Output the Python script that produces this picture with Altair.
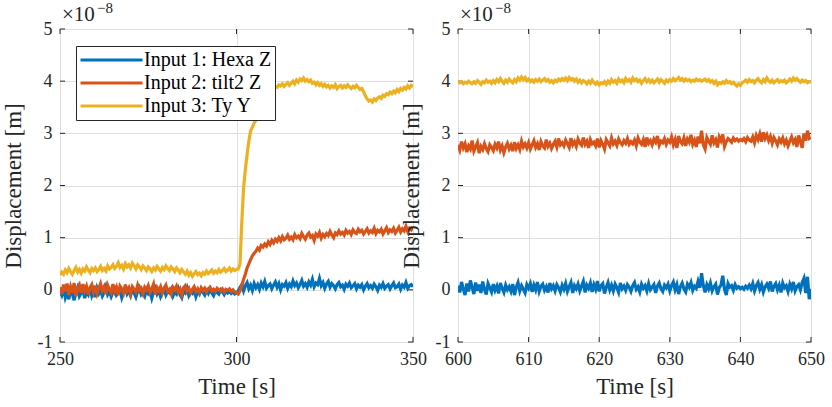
import altair as alt
import pandas as pd

FONT = "'Liberation Serif', 'Times New Roman', serif"
names = ["Input 1: Hexa Z", "Input 2: tilt2 Z", "Input 3: Ty Y"]
colors = ["#0072BD", "#D95319", "#EDB120"]

left_start, left_step = 250.0, 0.5
right_start, right_step = 600.0, 0.25

# values in units of 1e-8 m
blue_left = [
    -0.02,-0.10,0.03,-0.15,-0.05,-0.18,0.02,-0.08,-0.20,-0.04,
    0.05,-0.12,-0.06,0.01,-0.16,-0.03,-0.09,0.04,-0.11,-0.02,
    -0.14,0.03,-0.07,-0.01,-0.12,-0.05,0.06,-0.09,-0.03,-0.13,
    -0.04,0.02,-0.10,-0.06,-0.01,-0.15,-0.05,0.03,-0.08,-0.02,
    -0.11,0.01,-0.06,-0.14,-0.03,0.04,-0.09,-0.05,-0.12,0.00,
    -0.07,-0.02,-0.16,-0.04,0.03,-0.08,-0.01,-0.13,-0.05,0.02,
    -0.10,-0.03,-0.06,0.01,-0.12,-0.04,-0.08,0.02,-0.09,-0.15,
    -0.02,-0.06,0.03,-0.11,-0.04,-0.07,0.00,-0.13,-0.03,-0.08,
    0.01,-0.05,-0.10,-0.02,-0.07,0.02,-0.06,-0.11,-0.03,-0.05,
    -0.08,0.00,-0.04,-0.09,-0.02,-0.06,-0.03,-0.07,-0.04,-0.08,
    -0.06,
    -0.02,0.05,0.10,-0.02,0.08,0.14,0.02,0.09,-0.01,0.12,
    0.04,0.10,0.01,0.13,0.06,0.16,0.03,0.08,0.11,0.02,
    0.09,0.15,0.05,0.12,0.00,0.10,0.07,0.14,0.03,0.11,
    0.06,0.17,0.08,0.13,0.04,0.10,0.18,0.07,0.12,0.05,
    0.15,0.09,0.20,0.06,0.13,0.10,0.22,0.08,0.14,0.03,
    0.11,0.16,0.05,0.12,0.08,0.02,0.10,0.14,0.06,0.09,
    0.01,0.11,0.07,0.13,0.04,0.08,0.12,0.02,0.09,0.05,
    0.10,0.00,0.07,0.12,0.04,0.08,0.03,0.11,0.06,-0.01,
    0.09,0.05,0.12,0.03,0.07,0.10,0.02,0.08,0.13,0.04,
    0.06,0.11,0.01,0.09,0.05,0.14,0.03,0.08,0.10,0.06,
]

orange_left = [
    0.05,-0.08,0.10,-0.03,0.12,-0.10,0.06,-0.05,0.13,-0.12,
    0.02,0.09,-0.06,0.11,-0.02,0.07,-0.09,0.04,0.10,-0.04,
    0.08,-0.07,0.03,0.12,-0.01,0.06,-0.08,0.09,0.01,-0.05,
    0.11,-0.03,0.05,-0.10,0.07,0.02,-0.06,0.10,-0.02,0.04,
    -0.08,0.06,0.01,-0.04,0.09,-0.01,0.03,-0.07,0.05,0.00,
    0.08,-0.05,0.02,0.11,-0.09,0.04,-0.02,0.06,-0.06,0.03,
    0.09,-0.03,0.01,-0.08,0.05,0.00,0.07,-0.04,0.02,-0.10,
    0.04,0.08,-0.02,0.03,-0.06,0.01,0.06,-0.03,0.02,-0.05,
    0.04,-0.01,0.03,-0.04,0.02,0.05,-0.02,0.01,-0.03,0.03,
    0.00,-0.02,0.02,-0.04,0.01,-0.01,0.02,-0.03,0.00,-0.04,
    -0.06,
    -0.08,-0.02,0.08,0.20,0.30,0.42,0.50,0.58,0.65,0.70,
    0.74,0.80,0.76,0.85,0.82,0.88,0.84,0.92,0.87,0.95,
    0.90,0.97,0.93,1.00,0.94,1.02,0.96,0.99,1.05,0.97,
    1.01,0.96,1.06,1.00,1.03,0.98,1.08,1.02,0.97,1.05,
    1.09,1.01,1.04,0.95,1.07,1.03,1.10,0.99,1.06,1.02,
    1.08,1.04,1.12,1.05,1.00,1.09,1.06,1.13,1.07,1.10,
    1.05,1.14,1.09,1.12,1.06,1.15,1.10,1.08,1.16,1.11,
    1.14,1.07,1.12,1.17,1.09,1.13,1.10,1.18,1.08,1.14,
    1.11,1.16,1.07,1.13,1.19,1.10,1.15,1.12,1.18,1.09,
    1.14,1.20,1.11,1.17,1.13,1.22,1.12,1.18,1.15,1.20,
]

yellow_left = [
    0.28,0.34,0.30,0.38,0.33,0.41,0.35,0.30,0.37,0.43,
    0.34,0.39,0.32,0.40,0.36,0.44,0.38,0.33,0.41,0.37,
    0.42,0.35,0.39,0.45,0.37,0.41,0.36,0.46,0.40,0.43,
    0.48,0.41,0.45,0.52,0.43,0.47,0.40,0.50,0.44,0.48,
    0.42,0.51,0.46,0.40,0.48,0.44,0.39,0.46,0.42,0.37,
    0.44,0.40,0.35,0.42,0.38,0.45,0.40,0.36,0.43,0.39,
    0.46,0.41,0.37,0.44,0.40,0.35,0.42,0.38,0.33,0.39,
    0.34,0.30,0.36,0.28,0.33,0.26,0.31,0.35,0.29,0.32,
    0.27,0.33,0.30,0.36,0.31,0.34,0.38,0.32,0.36,0.33,
    0.39,0.34,0.37,0.41,0.35,0.38,0.42,0.36,0.40,0.37,
    0.39,
    0.40,0.50,1.30,1.95,2.30,2.60,2.85,3.05,3.12,3.20,
    3.25,3.33,3.40,3.50,3.58,3.65,3.72,3.76,3.80,3.84,
    3.86,3.90,3.88,3.93,3.91,3.95,3.90,3.94,3.97,3.92,
    3.96,4.00,3.95,4.02,3.98,4.04,4.01,4.06,4.00,4.03,
    3.99,4.02,3.96,3.98,3.93,3.97,3.92,3.95,3.90,3.94,
    3.89,3.92,3.87,3.91,3.88,3.93,3.86,3.90,3.92,3.87,
    3.91,3.88,3.93,3.89,3.86,3.90,3.87,3.92,3.88,3.84,
    3.86,3.80,3.72,3.66,3.62,3.64,3.60,3.66,3.63,3.68,
    3.70,3.67,3.73,3.71,3.76,3.74,3.79,3.76,3.81,3.78,
    3.84,3.80,3.86,3.83,3.88,3.85,3.91,3.87,3.92,3.89,
]

yellow_right = [
    4.00,3.97,3.99,3.95,3.98,3.96,4.00,3.97,3.95,3.99,3.96,4.01,3.98,3.94,3.99,3.97,4.02,3.98,4.00,3.96,
    4.01,3.97,4.03,3.99,4.05,4.00,3.96,4.02,3.98,4.04,4.00,3.97,4.03,3.99,4.06,4.02,4.08,4.03,4.07,4.01,
    4.04,3.99,4.02,3.98,4.03,4.00,4.04,3.99,4.02,4.05,4.00,4.03,3.98,4.01,3.97,4.02,3.99,4.04,4.01,4.05,
    4.02,4.06,4.01,4.07,4.03,4.05,4.00,4.04,3.98,4.02,3.97,4.01,3.99,3.95,4.00,3.96,4.02,3.97,3.94,3.98,
    3.93,3.97,3.95,3.99,3.94,4.00,3.96,4.03,3.98,4.01,3.96,4.04,3.99,4.02,3.97,4.05,4.00,4.03,3.98,4.06,
    4.01,4.04,3.99,4.02,3.96,4.01,4.05,3.99,4.03,3.98,4.02,3.97,4.00,4.04,3.98,4.03,4.00,3.96,4.02,3.99,
    4.03,4.00,4.05,4.01,4.04,4.07,4.02,4.05,4.00,4.04,4.01,4.03,3.99,4.02,4.00,4.04,4.01,4.03,4.00,4.02,
    4.04,4.00,4.03,3.98,4.01,3.96,4.00,3.93,3.97,3.95,3.99,3.96,4.01,3.97,3.99,3.95,3.98,3.94,3.91,3.95,
    3.92,3.97,3.99,4.02,3.98,4.03,3.99,4.01,3.97,4.02,4.05,4.00,3.97,4.03,3.99,4.06,4.01,3.98,4.02,3.97,
    4.00,4.03,3.98,4.01,3.99,4.02,3.97,4.00,4.04,4.00,4.06,4.02,4.05,4.01,3.98,4.02,3.99,4.01,3.97,3.99,
    3.98,
]

blue_right = [
    0.08,-0.05,0.15,0.02,-0.10,0.12,-0.03,0.18,0.05,-0.08,0.14,-0.02,0.10,-0.06,0.16,0.01,-0.09,0.12,0.04,-0.04,
    0.11,-0.01,0.07,-0.07,0.13,0.03,-0.05,0.09,0.00,0.06,-0.03,0.11,-0.10,0.05,0.14,-0.02,0.08,0.01,-0.06,0.10,
    0.03,0.12,-0.04,0.09,0.00,0.15,-0.03,0.07,0.11,-0.01,0.06,-0.05,0.13,0.02,0.08,-0.02,0.10,0.04,-0.04,0.09,
    0.01,0.12,-0.03,0.06,0.14,-0.06,0.08,0.02,0.11,-0.02,0.07,0.16,-0.05,0.09,0.03,0.13,-0.04,0.10,0.01,0.17,
    -0.03,0.08,0.12,-0.07,0.05,0.14,0.00,0.09,-0.02,0.11,0.04,-0.05,0.13,0.02,0.07,-0.01,0.10,0.05,-0.03,0.08,
    0.14,0.01,0.06,-0.04,0.11,0.03,0.08,-0.02,0.12,0.00,0.05,0.10,-0.06,0.07,0.13,0.02,-0.03,0.09,0.04,0.11,
    -0.02,0.08,0.15,0.00,0.10,-0.08,0.06,0.13,0.02,-0.04,0.11,0.05,0.14,-0.01,0.07,0.03,0.16,0.04,0.32,0.08,
    -0.05,0.10,0.02,0.13,-0.02,0.06,0.11,-0.09,0.04,0.09,0.27,0.01,-0.10,0.12,0.05,0.08,-0.01,0.10,0.03,0.06,
    0.02,0.05,0.01,0.07,0.03,0.09,0.02,0.12,-0.02,0.08,0.14,0.01,0.10,-0.04,0.06,0.11,0.03,0.16,-0.03,0.07,
    0.12,0.00,0.09,-0.05,0.13,0.04,0.08,-0.03,0.11,0.02,0.15,-0.02,0.06,0.10,0.00,0.14,0.22,-0.06,0.25,-0.18,
    0.02,
]

orange_right = [
    2.78,2.68,2.84,2.72,2.80,2.64,2.76,2.70,2.86,2.66,2.74,2.82,2.62,2.75,2.69,2.80,2.71,2.65,2.78,2.73,
    2.67,2.79,2.72,2.84,2.68,2.76,2.63,2.74,2.81,2.70,2.77,2.66,2.83,2.71,2.78,2.69,2.85,2.74,2.80,2.72,
    2.82,2.70,2.78,2.86,2.73,2.80,2.68,2.84,2.76,2.72,2.88,2.75,2.81,2.71,2.79,2.85,2.74,2.90,2.78,2.82,
    2.76,2.87,2.80,2.73,2.91,2.78,2.84,2.75,2.89,2.81,2.77,2.92,2.79,2.85,2.72,2.88,2.80,2.83,2.76,2.90,
    2.73,2.86,2.79,2.70,2.88,2.82,2.76,2.91,2.80,2.85,2.77,2.89,2.82,2.78,2.86,2.81,2.90,2.79,2.84,2.80,
    2.87,2.76,2.91,2.83,2.79,2.88,2.74,2.92,2.81,2.86,2.78,2.89,2.83,2.95,2.77,2.85,2.82,2.90,2.79,2.87,
    2.83,2.93,2.78,2.88,2.72,2.95,2.84,2.80,2.91,2.76,2.89,2.83,2.97,2.79,2.87,2.74,2.94,2.81,3.05,2.78,
    2.70,2.92,2.85,2.79,2.96,2.82,2.88,2.73,2.93,2.86,2.98,2.75,2.84,2.90,2.87,2.83,2.91,2.86,2.89,2.85,
    2.88,2.86,2.90,2.84,2.92,2.87,2.85,2.93,2.82,2.96,2.88,2.99,2.84,3.02,2.90,2.97,2.86,2.94,2.81,2.92,
    2.86,2.78,2.89,2.83,2.91,2.80,2.87,2.76,2.85,2.93,2.82,2.88,2.74,2.96,2.84,2.72,3.00,2.86,3.05,2.90,
    2.92,
]

y_ticks = [-1, 0, 1, 2, 3, 4, 5]
x_ticks_left = [250, 300, 350]
x_ticks_right = [600, 610, 620, 630, 640, 650]

W, H = 353, 313


def make_df(series_lists, start, step):
    rows = []
    for name, vals in zip(names, series_lists):
        for i, v in enumerate(vals):
            rows.append({"t": start + step * i, "y": v, "series": name})
    return pd.DataFrame(rows)


def panel(df, xdom, xticks, show_legend):
    x_enc = alt.X("t:Q", scale=alt.Scale(domain=xdom, nice=False, zero=False),
                  axis=alt.Axis(values=xticks, title="Time [s]", labelPadding=8,
                                labelFlush=False, titlePadding=7,
                                labelExpr="'' + datum.value"))
    y_enc = alt.Y("y:Q", scale=alt.Scale(domain=[-1, 5], nice=False, zero=False),
                  axis=alt.Axis(values=y_ticks, title="Displacement [m]", labelPadding=8,
                                labelFlush=False, titlePadding=12,
                                labelExpr="'' + datum.value"))
    if show_legend:
        legend = alt.Legend(orient="none", legendX=16, legendY=17, title=None,
                            symbolType="stroke", symbolSize=3844, symbolStrokeWidth=3,
                            clipHeight=22, rowPadding=1, padding=3, labelOffset=0,
                            labelFont=FONT, labelFontSize=20, labelColor="#000000",
                            fillColor="white", strokeColor="#262626", labelLimit=300)
    else:
        legend = None
    color = alt.Color("series:N", scale=alt.Scale(domain=names, range=colors), legend=legend)

    xt = alt.Chart(pd.DataFrame({"t": xticks}))
    yt = alt.Chart(pd.DataFrame({"y": y_ticks}))
    layers = [
        xt.mark_rule(color="#262626").encode(x=x_enc, y=alt.value(H), y2=alt.value(H - 5)),
        xt.mark_rule(color="#262626").encode(x=x_enc, y=alt.value(0), y2=alt.value(5)),
        yt.mark_rule(color="#262626").encode(y=y_enc, x=alt.value(0), x2=alt.value(5)),
        yt.mark_rule(color="#262626").encode(y=y_enc, x=alt.value(W), x2=alt.value(W - 5)),
    ]
    for name in names:
        layers.append(
            alt.Chart(df[df["series"] == name]).mark_line(strokeWidth=3.2, clip=True)
            .encode(x=x_enc, y=y_enc, color=color)
        )
    layers.append(
        alt.Chart(pd.DataFrame({"s": ["×10"]})).mark_text(
            align="left", baseline="alphabetic", font=FONT, fontSize=21, color="#262626"
        ).encode(x=alt.value(2), y=alt.value(-8), text="s:N")
    )
    layers.append(
        alt.Chart(pd.DataFrame({"s": ["−8"]})).mark_text(
            align="left", baseline="alphabetic", font=FONT, fontSize=15, color="#262626"
        ).encode(x=alt.value(37), y=alt.value(-16), text="s:N")
    )
    return alt.layer(*layers).properties(width=W, height=H)


df_left = make_df([blue_left, orange_left, yellow_left], left_start, left_step)
df_right = make_df([blue_right, orange_right, yellow_right], right_start, right_step)

left = panel(df_left, [250, 350], x_ticks_left, True)
right = panel(df_right, [600, 650], x_ticks_right, False)

chart = (
    alt.hconcat(left, right, spacing=45, bounds="flush")
    .resolve_legend(color="independent")
    .properties(padding={"left": 1, "top": 0, "right": 0, "bottom": 0})
    .configure_view(stroke="#262626", strokeWidth=1)
    .configure_axis(
        domain=False, ticks=False, grid=True, gridColor="#dfdfdf", gridWidth=1,
        labelFont=FONT, labelFontSize=18, labelColor="#262626",
        titleFont=FONT, titleFontSize=23, titleFontWeight="normal", titleColor="#262626",
    )
)

chart.save("out.html", embed_options={"renderer": "svg", "actions": False})
